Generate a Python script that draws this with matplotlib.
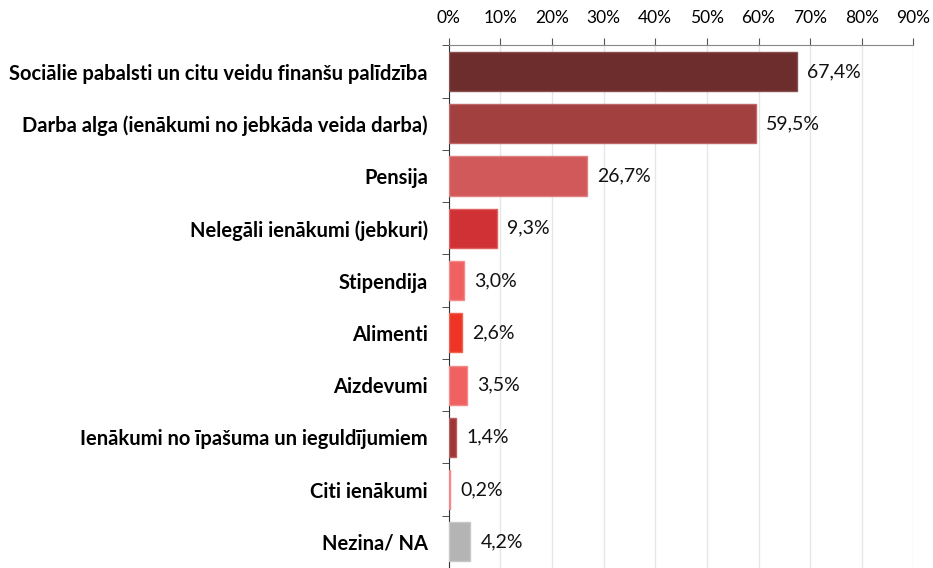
import matplotlib.pyplot as plt
from matplotlib.ticker import FixedLocator, PercentFormatter
import numpy as np

categories = [
    'Sociālie pabalsti un citu veidu finanšu palīdzība',
    'Darba alga (ienākumi no jebkāda veida darba)',
    'Pensija',
    'Nelegāli ienākumi (jebkuri)',
    'Stipendija',
    'Alimenti',
    'Aizdevumi',
    'Ienākumi no īpašuma un ieguldījumiem',
    'Citi ienākumi',
    'Nezina/ NA',
]
values = [67.4, 59.5, 26.7, 9.3, 3.0, 2.6, 3.5, 1.4, 0.2, 4.2]
colors = ['#6E2D2D', '#A23F3F', '#D15959', '#D03135', '#F06262',
          '#EE3525', '#F06262', '#9E3636', '#F06262', '#B4B4B4']
edges = ['#8A5050', '#C06666', '#E08080', '#E06060', '#F58888',
         '#F26050', '#F58888', '#B86060', '#F58888', '#C8C8C8']

plt.rcParams['font.family'] = ['Lato', 'DejaVu Sans']

fig = plt.figure(figsize=(9.33, 5.68), dpi=100)
ax = fig.add_axes([0.481, 0.0, 0.498, 0.92])

y = np.arange(len(categories))
ax.barh(y, values, height=0.75, color=colors, edgecolor=edges, linewidth=1, zorder=3)
for yi, v in zip(y, values):
    ax.text(v + 2.0, yi, f'{v:.1f}%'.replace('.', ','), va='center', ha='left',
            fontsize=14, color='#111111')

ax.set_xlim(0, 90)
ax.set_ylim(len(categories) - 0.5, -0.5)
ax.xaxis.tick_top()
ax.set_xticks(np.arange(0, 91, 10))
ax.xaxis.set_major_formatter(PercentFormatter(decimals=0))
ax.tick_params(axis='x', labelsize=12.5, length=5, color='#555555', pad=9)
ax.grid(axis='x', color='#E6E6E6', linewidth=1, zorder=0)

ax.set_yticks(y)
ax.set_yticklabels(categories, fontsize=14.5, fontweight='bold')
ax.tick_params(axis='y', length=0, pad=15)
ax.yaxis.set_minor_locator(FixedLocator(np.arange(-0.5, len(categories), 1)))
ax.tick_params(axis='y', which='minor', length=5, color='#333333')

for s in ['right', 'bottom']:
    ax.spines[s].set_visible(False)
ax.spines['top'].set_color('#888888')
ax.spines['left'].set_color('#333333')

fig.savefig('out.png', dpi=100)
